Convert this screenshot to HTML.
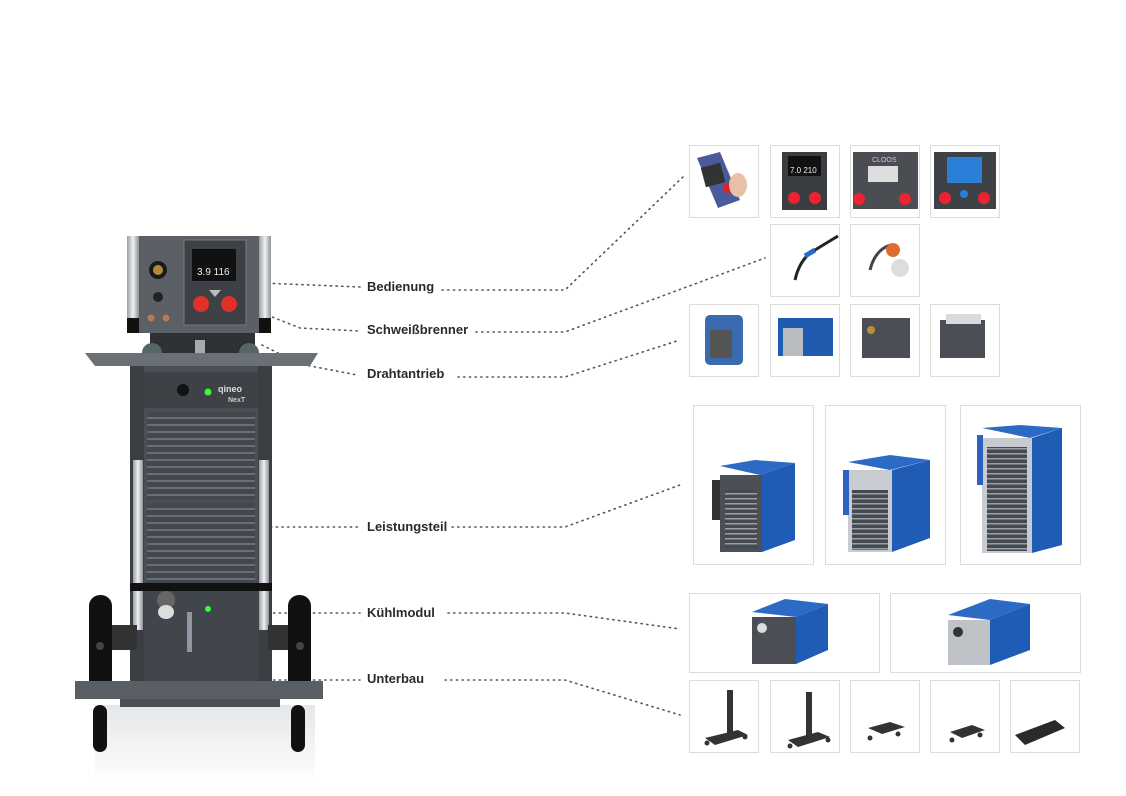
<!DOCTYPE html>
<html><head><meta charset="utf-8"><style>
html,body{margin:0;padding:0;background:#fff;width:1126px;height:796px;overflow:hidden}
svg{display:block}
text{font-family:"Liberation Sans",sans-serif}
</style></head><body>
<svg width="1126" height="796" viewBox="0 0 1126 796" xmlns="http://www.w3.org/2000/svg">
<defs>
<linearGradient id="alu" x1="0" x2="1"><stop offset="0" stop-color="#9a9ea3"/><stop offset=".5" stop-color="#eef0f2"/><stop offset="1" stop-color="#8d9196"/></linearGradient>
<linearGradient id="shadow" x1="0" y1="0" x2="0" y2="1"><stop offset="0" stop-color="#d4d6d8"/><stop offset="1" stop-color="#fff"/></linearGradient>
<pattern id="grill" width="10" height="7" patternUnits="userSpaceOnUse"><rect width="10" height="7" fill="#44484d"/><rect y="4" width="10" height="2" fill="#6a6f75"/></pattern>
<pattern id="grill2" width="8" height="5" patternUnits="userSpaceOnUse"><rect width="8" height="5" fill="#444a50"/><rect y="3" width="8" height="1.5" fill="#9aa0a6"/></pattern>
</defs>

<g fill="none" stroke="#555" stroke-width="1.6" stroke-dasharray="1.2 4.5" stroke-linecap="round">
<polyline points="262,283 360,287"/>
<polyline points="442,290 565,290 685,175"/>
<polyline points="262,313 300,328 360,331"/>
<polyline points="476,332 565,332 765,258"/>
<polyline points="262,345 300,364 357,375"/>
<polyline points="458,377 565,377 680,340"/>
<polyline points="225,527 360,527"/>
<polyline points="452,527 565,527 680,485"/>
<polyline points="228,613 360,613"/>
<polyline points="448,613 565,613 680,629"/>
<polyline points="228,680 360,680"/>
<polyline points="445,680 565,680 680,715"/>
</g>

<g font-size="13" font-weight="bold" fill="#2a2a2a">
<text x="367" y="291">Bedienung</text>
<text x="367" y="334">Schweißbrenner</text>
<text x="367" y="378">Drahtantrieb</text>
<text x="367" y="531">Leistungsteil</text>
<text x="367" y="617">Kühlmodul</text>
<text x="367" y="683">Unterbau</text>
</g>

<rect x="95" y="705" width="220" height="80" fill="url(#shadow)" opacity=".6"/>
<rect x="130" y="236" width="140" height="97" fill="#5b6066"/>
<rect x="127" y="236" width="12" height="97" fill="url(#alu)"/>
<rect x="259" y="236" width="12" height="97" fill="url(#alu)"/>
<rect x="127" y="318" width="12" height="15" fill="#111"/><rect x="259" y="318" width="12" height="15" fill="#111"/>
<circle cx="158" cy="270" r="9" fill="#1a1a1a"/><circle cx="158" cy="270" r="5" fill="#b08a3a"/>
<circle cx="158" cy="297" r="5" fill="#222"/>
<circle cx="151" cy="318" r="3.5" fill="#b87a50"/><circle cx="166" cy="318" r="3.5" fill="#b87a50"/>
<rect x="184" y="240" width="62" height="85" fill="#3d4146" stroke="#777" stroke-width="1"/>
<rect x="192" y="249" width="44" height="32" fill="#111"/>
<text x="197" y="275" font-size="10" fill="#eee">3.9 116</text>
<circle cx="201" cy="304" r="8" fill="#e03028"/><circle cx="229" cy="304" r="8" fill="#e03028"/>
<polygon points="209,290 221,290 215,297" fill="#bbb"/>
<rect x="150" y="333" width="105" height="34" fill="#2e3136"/>
<circle cx="152" cy="353" r="10" fill="#566"/><circle cx="249" cy="353" r="10" fill="#566"/>
<rect x="195" y="340" width="10" height="25" fill="#aaa"/>
<polygon points="85,353 318,353 310,366 95,366" fill="#6b7076"/>
<rect x="130" y="366" width="142" height="320" fill="#4a4f55"/>
<rect x="130" y="366" width="14" height="320" fill="#3b3f44"/><rect x="258" y="366" width="14" height="320" fill="#3b3f44"/>
<rect x="133" y="460" width="10" height="170" fill="url(#alu)"/><rect x="259" y="460" width="10" height="170" fill="url(#alu)"/>
<rect x="144" y="372" width="114" height="36" fill="#3e4247"/>
<circle cx="183" cy="390" r="6" fill="#111"/><circle cx="208" cy="392" r="3.5" fill="#3f3"/>
<text x="218" y="392" font-size="9" font-weight="bold" fill="#ddd">qineo</text>
<text x="228" y="402" font-size="7" font-weight="bold" fill="#ccc">NexT</text>
<rect x="147" y="412" width="108" height="88" fill="url(#grill)"/>
<rect x="147" y="503" width="108" height="80" fill="url(#grill)"/>
<rect x="130" y="583" width="142" height="8" fill="#111"/>
<rect x="144" y="591" width="114" height="90" fill="#41464c"/>
<circle cx="166" cy="600" r="9" fill="#666"/><ellipse cx="166" cy="612" rx="8" ry="7" fill="#ddd"/>
<rect x="187" y="612" width="5" height="40" fill="#aab" opacity=".8"/>
<circle cx="208" cy="609" r="3" fill="#3f3"/>
<rect x="112" y="625" width="25" height="25" fill="#333"/><rect x="268" y="625" width="25" height="25" fill="#333"/>
<rect x="89" y="595" width="23" height="102" rx="11" fill="#111"/>
<rect x="288" y="595" width="23" height="102" rx="11" fill="#111"/>
<circle cx="100" cy="646" r="4" fill="#444"/><circle cx="300" cy="646" r="4" fill="#444"/>
<rect x="75" y="681" width="248" height="18" fill="#5a5f65"/>
<rect x="120" y="699" width="160" height="8" fill="#4a4f55"/>
<rect x="93" y="705" width="14" height="47" rx="7" fill="#111"/>
<rect x="291" y="705" width="14" height="47" rx="7" fill="#111"/>

<g fill="#fff" stroke="#dcdcdc" stroke-width="1">
<rect x="689.5" y="145.5" width="69" height="72"/><rect x="770.5" y="145.5" width="69" height="72"/><rect x="850.5" y="145.5" width="69" height="72"/><rect x="930.5" y="145.5" width="69" height="72"/>
<rect x="770.5" y="224.5" width="69" height="72"/><rect x="850.5" y="224.5" width="69" height="72"/>
<rect x="689.5" y="304.5" width="69" height="72"/><rect x="770.5" y="304.5" width="69" height="72"/><rect x="850.5" y="304.5" width="69" height="72"/><rect x="930.5" y="304.5" width="69" height="72"/>
<rect x="693.5" y="405.5" width="120" height="159"/><rect x="825.5" y="405.5" width="120" height="159"/><rect x="960.5" y="405.5" width="120" height="159"/>
<rect x="689.5" y="593.5" width="190" height="79"/><rect x="890.5" y="593.5" width="190" height="79"/>
<rect x="689.5" y="680.5" width="69" height="72"/><rect x="770.5" y="680.5" width="69" height="72"/><rect x="850.5" y="680.5" width="69" height="72"/><rect x="930.5" y="680.5" width="69" height="72"/><rect x="1010.5" y="680.5" width="69" height="72"/>
</g>

<g>
<polygon points="697,158 720,152 740,200 718,208" fill="#4a5a9a"/><rect x="703" y="165" width="20" height="20" fill="#333" transform="rotate(-15 713 175)"/>
<circle cx="728" cy="188" r="5" fill="#d22"/><ellipse cx="738" cy="185" rx="9" ry="12" fill="#e8c0a8"/>
<rect x="782" y="152" width="45" height="58" fill="#3a3d42"/><rect x="788" y="156" width="33" height="20" fill="#111"/>
<text x="790" y="173" font-size="8" fill="#eee">7.0 210</text>
<circle cx="794" cy="198" r="6" fill="#e23"/><circle cx="815" cy="198" r="6" fill="#e23"/>
<rect x="853" y="152" width="65" height="57" fill="#4a4e53"/><text x="872" y="162" font-size="7" fill="#ccc">CLOOS</text>
<rect x="868" y="166" width="30" height="16" fill="#ddd"/>
<circle cx="859" cy="199" r="6" fill="#e23"/><circle cx="905" cy="199" r="6" fill="#e23"/>
<rect x="934" y="152" width="62" height="57" fill="#3e4247"/><rect x="947" y="157" width="35" height="26" fill="#2b7fd8"/>
<circle cx="945" cy="198" r="6" fill="#e23"/><circle cx="984" cy="198" r="6" fill="#e23"/><circle cx="964" cy="194" r="4" fill="#2b7fd8"/>
</g>
<path d="M838,236 L815,250 Q800,258 795,280" stroke="#222" stroke-width="3" fill="none"/>
<path d="M815,250 L805,256" stroke="#2a6cc8" stroke-width="5"/>
<path d="M870,270 Q875,250 890,245" stroke="#444" stroke-width="3" fill="none"/>
<circle cx="893" cy="250" r="7" fill="#e06a30"/><circle cx="900" cy="268" r="9" fill="#ddd"/>
<rect x="705" y="315" width="38" height="50" rx="5" fill="#3a6ab0"/><rect x="710" y="330" width="22" height="28" fill="#555"/>
<rect x="778" y="318" width="55" height="38" fill="#1f5cb0"/><rect x="783" y="328" width="20" height="28" fill="#b8bcc0"/>
<rect x="862" y="318" width="48" height="40" fill="#4b4f55"/><circle cx="871" cy="330" r="4" fill="#b8903a"/>
<rect x="940" y="320" width="45" height="38" fill="#4b4f55"/><rect x="946" y="314" width="35" height="10" fill="#d8dbde"/>
<g>
<polygon points="720,466 755,460 795,463 760,475" fill="#2c6ac6"/>
<polygon points="760,475 795,463 795,540 762,552" fill="#1f5cb6"/>
<rect x="720" y="475" width="42" height="77" fill="#4c5056"/><rect x="725" y="490" width="32" height="58" fill="url(#grill2)"/>
<rect x="712" y="480" width="8" height="40" fill="#333"/>
<polygon points="848,462 890,455 930,460 890,470" fill="#2c6ac6"/>
<polygon points="892,470 930,460 930,538 892,552" fill="#1f5cb6"/>
<rect x="848" y="470" width="44" height="82" fill="#c8ccd0"/><rect x="852" y="490" width="36" height="60" fill="url(#grill2)"/>
<rect x="843" y="470" width="6" height="45" fill="#2f62c0"/>
<polygon points="982,428 1020,425 1062,428 1030,438" fill="#2c6ac6"/>
<polygon points="1032,438 1062,428 1062,545 1032,553" fill="#1f5cb6"/>
<rect x="982" y="438" width="50" height="115" fill="#c8ccd0"/><rect x="987" y="447" width="40" height="104" fill="url(#grill2)"/>
<rect x="977" y="435" width="6" height="50" fill="#2f62c0"/>
</g>
<polygon points="752,612 785,599 828,604 796,617" fill="#2c6ac6"/>
<polygon points="796,617 828,604 828,650 796,664" fill="#1f5cb6"/>
<rect x="752" y="617" width="44" height="47" fill="#4b4f55"/><circle cx="762" cy="628" r="5" fill="#ddd"/>
<polygon points="948,615 990,599 1030,604 990,620" fill="#2c6ac6"/>
<polygon points="990,620 1030,604 1030,650 990,665" fill="#1f5cb6"/>
<rect x="948" y="620" width="42" height="45" fill="#bfc3c7"/><circle cx="958" cy="632" r="5" fill="#333"/>
<g fill="#333">
<rect x="727" y="690" width="6" height="45"/><polygon points="705,738 738,730 748,735 715,745"/><circle cx="707" cy="743" r="2.5"/><circle cx="745" cy="737" r="2.5"/>
<rect x="806" y="692" width="6" height="45"/><polygon points="788,740 818,732 830,737 798,747"/><circle cx="790" cy="746" r="2.5"/><circle cx="828" cy="740" r="2.5"/>
<polygon points="868,728 890,722 905,727 882,734"/><circle cx="870" cy="738" r="2.5"/><circle cx="898" cy="734" r="2.5"/>
<polygon points="950,732 972,725 985,730 962,738"/><circle cx="952" cy="740" r="2.5"/><circle cx="980" cy="735" r="2.5"/>
<polygon points="1015,735 1055,720 1065,728 1025,745" fill="#2a2a2a"/>
</g>
</svg>
</body></html>
